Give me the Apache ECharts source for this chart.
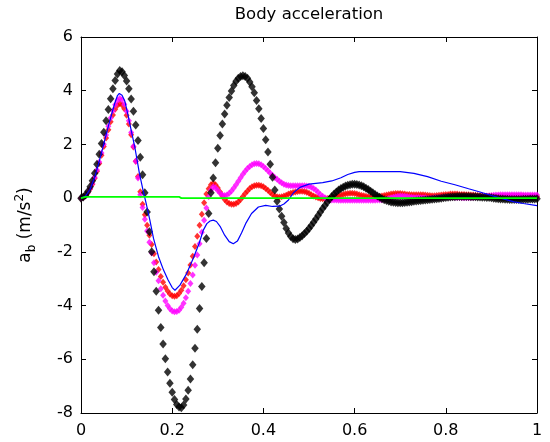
<!DOCTYPE html>
<html>
<head>
<meta charset="utf-8">
<title>Body acceleration</title>
<script src="https://cdn.jsdelivr.net/npm/echarts@6/dist/echarts.min.js"></script>
<style>
  html, body { margin: 0; padding: 0; background: #ffffff; }
  #chart { width: 550px; height: 442px; }
</style>
</head>
<body>
<div id="chart"></div>
<script>
// Uniform sample spacing (s) of the three marker series
const SAMPLE_STEP = 0.005;

// Axis ticks
const xTicks = [0, 0.2, 0.4, 0.6, 0.8, 1];
const yTicks = [-8, -6, -4, -2, 0, 2, 4, 6];

// Body acceleration a_b (m/s^2), black diamonds
const accelBlack = [
  0, 0.04, 0.12, 0.25, 0.42, 0.65, 0.93, 1.26, 1.63, 2.03, 2.45, 2.88, 3.3, 3.7, 4.07, 4.38, 4.62, 4.75,
  4.71, 4.57, 4.36, 4.07, 3.69, 3.24, 2.72, 2.15, 1.52, 0.87, 0.2, -0.52, -1.25, -2.0, -2.74, -3.47, -4.17,
  -4.82, -5.43, -5.98, -6.47, -6.89, -7.23, -7.5, -7.68, -7.78, -7.8,
  -7.7, -7.48, -7.15, -6.73, -6.2, -5.59, -4.88, -4.11, -3.29, -2.41, -1.5, -0.57, 0.2, 0.75, 1.32, 1.86,
  2.33, 2.76, 3.13, 3.46, 3.75, 3.99, 4.19, 4.35, 4.46, 4.53, 4.56, 4.53,
  4.46, 4.32, 4.15, 3.92, 3.64, 3.33, 2.97, 2.59, 2.17, 1.72, 1.26, 0.78, 0.3, -0.12, -0.4, -0.67, -0.91,
  -1.13, -1.3, -1.43, -1.51, -1.54,
  -1.52, -1.47, -1.4, -1.32, -1.23, -1.13, -1.02, -0.9, -0.78, -0.65, -0.52, -0.39, -0.27, -0.15, -0.04,
  0.06, 0.15, 0.23, 0.3, 0.36, 0.41, 0.45, 0.48, 0.5, 0.52, 0.52, 0.51, 0.49, 0.46, 0.42, 0.37, 0.32, 0.26,
  0.2, 0.14, 0.08, 0.03, -0.02, -0.06, -0.09, -0.12, -0.14, -0.15, -0.16, -0.17, -0.17, -0.17, -0.16, -0.15, -0.14,
  -0.13, -0.12, -0.11, -0.1, -0.09, -0.08, -0.07, -0.06, -0.05, -0.04, -0.03, -0.02, -0.01, 0, 0.01, 0.02,
  0.03, 0.04, 0.05, 0.05, 0.06, 0.06, 0.06, 0.06, 0.06, 0.06, 0.05, 0.05, 0.05, 0.04, 0.04, 0.03, 0.03, 0.02, 0.02, 0.01,
  0.0, -0.01, -0.02, -0.03, -0.03, -0.04, -0.04, -0.05, -0.05, -0.05, -0.05, -0.05, -0.05, -0.04, -0.04, -0.04, -0.03, -0.03, -0.03, -0.02
];

// Red diamonds
const accelRed = [
  0, 0.03, 0.1, 0.2, 0.34, 0.52, 0.74, 1.0, 1.29, 1.6, 1.92, 2.24, 2.55, 2.84, 3.1, 3.31, 3.46, 3.52,
  3.47, 3.33, 3.09, 2.76, 2.36, 1.9, 1.37, 0.81, 0.24,
  -0.23, -0.62, -1.01, -1.38, -1.73, -2.07, -2.38, -2.66, -2.92, -3.13, -3.32, -3.46, -3.57, -3.63, -3.65,
  -3.63, -3.55, -3.43, -3.26, -3.04, -2.79, -2.49, -2.16, -1.8, -1.42, -1.01, -0.6, -0.17,
  0.15, 0.35, 0.5, 0.55, 0.5, 0.38, 0.23, 0.08, -0.05, -0.14, -0.2, -0.23, -0.23, -0.2, -0.14, -0.05,
  0.06, 0.17, 0.27, 0.36, 0.42, 0.46, 0.48, 0.48, 0.46, 0.42, 0.36, 0.29, 0.21, 0.14, 0.08, 0.05, 0.04,
  0.05, 0.08, 0.11, 0.15, 0.18, 0.21, 0.23, 0.25, 0.26, 0.26, 0.25, 0.22, 0.18, 0.13, 0.08, 0.04, 0.01,
  -0.01, -0.02, -0.02, -0.01, 0.0, 0.02, 0.04, 0.07, 0.09, 0.12, 0.14, 0.16, 0.17, 0.18, 0.18, 0.17, 0.15,
  0.13, 0.11, 0.09, 0.07, 0.05, 0.04, 0.04, 0.04, 0.05, 0.06, 0.08, 0.1, 0.12, 0.14, 0.15, 0.16, 0.17, 0.17, 0.17,
  0.16, 0.15, 0.14, 0.14, 0.13, 0.13, 0.13, 0.13, 0.13, 0.13, 0.12, 0.11, 0.1, 0.09, 0.09, 0.1, 0.11, 0.12,
  0.13, 0.14, 0.14, 0.15, 0.15, 0.15, 0.15, 0.14, 0.14, 0.14, 0.13, 0.13, 0.12, 0.12, 0.11, 0.1, 0.09, 0.08,
  0.07, 0.06, 0.06, 0.05, 0.05, 0.05, 0.05, 0.05, 0.06, 0.06, 0.06, 0.07, 0.07, 0.07, 0.07, 0.07, 0.07, 0.07,
  0.06, 0.06, 0.06, 0.06, 0.06, 0.06
];

// Magenta diamonds
const accelMagenta = [
  0, 0.03, 0.1, 0.21, 0.36, 0.55, 0.78, 1.05, 1.35, 1.68, 2.01, 2.35, 2.68, 2.98, 3.25, 3.48, 3.64, 3.71,
  3.66, 3.5, 3.24, 2.88, 2.44, 1.93, 1.37, 0.75, 0.13,
  -0.35, -0.79, -1.22, -1.64, -2.04, -2.41, -2.76, -3.08, -3.37, -3.62, -3.83, -4.0, -4.12, -4.2, -4.23, -4.22,
  -4.17, -4.06, -3.91, -3.71, -3.47, -3.18, -2.86, -2.5, -2.12, -1.7, -1.27, -0.82, -0.37,
  0.05, 0.3, 0.42, 0.38, 0.28, 0.18, 0.12, 0.1, 0.12, 0.18, 0.27, 0.38, 0.5, 0.63, 0.76, 0.89, 1.0, 1.1,
  1.18, 1.24, 1.28, 1.29, 1.28, 1.24, 1.18, 1.1, 1.02, 0.93, 0.85, 0.77, 0.7, 0.63, 0.57, 0.52, 0.49, 0.47,
  0.46, 0.46, 0.46, 0.46, 0.46, 0.46, 0.46, 0.45, 0.44, 0.41, 0.36, 0.3, 0.22, 0.14, 0.07, 0.01, -0.04, -0.06, -0.07,
  -0.07, -0.07, -0.08, -0.08, -0.08, -0.08, -0.08, -0.08, -0.08, -0.08, -0.08, -0.08, -0.08, -0.08, -0.08,
  -0.08, -0.08, -0.08, -0.08, -0.07,
  -0.07, -0.06, -0.05, -0.03, -0.01, 0.01, 0.03, 0.05, 0.07, 0.08, 0.08, 0.07, 0.06, 0.04, 0.03, 0.02,
  0.02, 0.02, 0.01, 0.01, 0.01, 0.0, 0.0, 0.0, 0.01, 0.01, 0.02, 0.02, 0.03, 0.03, 0.03, 0.03, 0.03, 0.02,
  0.02, 0.02, 0.01, 0.01, 0.01, 0.01, 0.02, 0.02, 0.03, 0.04, 0.05, 0.06, 0.07, 0.08, 0.09, 0.1,
  0.11, 0.12, 0.12, 0.13, 0.13, 0.13, 0.13, 0.13, 0.13, 0.13, 0.13, 0.13, 0.13, 0.12, 0.12, 0.12, 0.12, 0.12, 0.12, 0.12
];

// Blue line: time (s) and value
const blueTime = [
  0, 0.01, 0.02, 0.03, 0.04, 0.05, 0.06, 0.07, 0.075, 0.08, 0.084, 0.09, 0.096, 0.103, 0.11, 0.118, 0.123,
  0.128, 0.136, 0.143, 0.151, 0.159, 0.17, 0.181, 0.191, 0.2, 0.206, 0.217, 0.232, 0.246, 0.259, 0.268,
  0.276, 0.283, 0.29, 0.297, 0.305, 0.315, 0.325, 0.334, 0.343, 0.352, 0.362, 0.374, 0.389, 0.405, 0.42,
  0.435, 0.445, 0.455, 0.466, 0.48, 0.5, 0.53, 0.55, 0.57, 0.585, 0.6, 0.61, 0.7, 0.73, 0.76, 0.79, 0.82,
  0.85, 0.875, 0.9, 0.92, 0.95, 0.97, 1.0
];
const blueAccel = [
  0, 0.08, 0.33, 0.78, 1.37, 2.02, 2.68, 3.3, 3.58, 3.82, 3.9, 3.83, 3.62, 3.1, 2.53, 1.9, 1.42,
  0.93, 0.3, -0.2, -0.82, -1.5, -2.18, -2.68, -3.05, -3.33, -3.43, -3.24, -2.8, -2.25, -1.69, -1.2,
  -0.95, -0.85, -0.82, -0.87, -1.05, -1.38, -1.62, -1.7, -1.6, -1.3, -0.92, -0.57, -0.33, -0.27, -0.31,
  -0.3, -0.22, -0.07, 0.2, 0.4, 0.52, 0.58, 0.64, 0.76, 0.88, 0.96, 0.99, 0.99, 0.92, 0.8, 0.63, 0.5,
  0.35, 0.23, 0.1, 0.0, -0.14, -0.2, -0.28
];

// Green line: time (s) and value
const greenTime = [0, 0.01, 0.215, 0.22, 1.0];
const greenAccel = [0, 0.05, 0.05, 0.0, 0.0];

const FONT = "'DejaVu Sans', 'Liberation Sans', Arial, sans-serif";

const sampleTimes = accelBlack.map((_, i) => +(i * SAMPLE_STEP).toFixed(3));
const pairs = (ts, vs) => vs.map((v, i) => [ts[i], v]);

const xMin = xTicks[0], xMax = xTicks[xTicks.length - 1], xStep = xTicks[1] - xTicks[0];
const yMin = yTicks[0], yMax = yTicks[yTicks.length - 1], yStep = yTicks[1] - yTicks[0];

const boxAxis = (extra) => Object.assign({
  type: 'value',
  axisLine: { show: true, onZero: false, lineStyle: { color: '#000', width: 1 } },
  axisTick: { show: true, inside: true, length: 5, lineStyle: { color: '#000', width: 1 } },
  splitLine: { show: false },
  axisLabel: { show: false }
}, extra);

const markerSeries = (name, values, color, size) => ({
  name,
  type: 'scatter',
  data: pairs(sampleTimes, values),
  symbol: 'diamond',
  symbolSize: size,
  itemStyle: { color },
  clip: false,
  silent: true
});

const lineSeries = (name, ts, vs, color, width) => ({
  name,
  type: 'line',
  data: pairs(ts, vs),
  showSymbol: false,
  symbol: 'none',
  lineStyle: { color, width },
  clip: false,
  silent: true
});

const chart = echarts.init(document.getElementById('chart'), null, { renderer: 'canvas' });
chart.setOption({
  animation: false,
  backgroundColor: '#ffffff',
  title: {
    text: 'Body acceleration',
    left: 309,
    top: 6,
    textAlign: 'center',
    padding: 0,
    textStyle: { fontFamily: FONT, fontSize: 16.5, fontWeight: 'normal', color: '#000' }
  },
  grid: { left: 81, right: 13, top: 37, bottom: 29, containLabel: false, outerBoundsMode: 'none' },
  xAxis: [
    boxAxis({
      position: 'bottom', min: xMin, max: xMax, interval: xStep,
      axisLabel: { show: true, color: '#000', fontFamily: FONT, fontSize: 16, margin: 10 }
    }),
    boxAxis({ position: 'top', min: xMin, max: xMax, interval: xStep })
  ],
  yAxis: [
    boxAxis({
      position: 'left', min: yMin, max: yMax, interval: yStep,
      axisLabel: { show: true, color: '#000', fontFamily: FONT, fontSize: 16, margin: 8 },
      name: 'a{sub|b} (m/s{sup|2})',
      nameLocation: 'middle',
      nameRotate: 90,
      nameGap: 43,
      nameTextStyle: {
        fontFamily: FONT, fontSize: 17, color: '#000', lineHeight: 24,
        rich: {
          sub: { fontFamily: FONT, fontSize: 12, lineHeight: 12, verticalAlign: 'bottom', color: '#000' },
          sup: { fontFamily: FONT, fontSize: 12, lineHeight: 12, verticalAlign: 'top', color: '#000' }
        }
      }
    }),
    boxAxis({ position: 'right', min: yMin, max: yMax, interval: yStep })
  ],
  series: [
    markerSeries('red', accelRed, '#ff0000', [6, 7]),
    markerSeries('magenta', accelMagenta, '#ff00ff', [6, 7]),
    markerSeries('black', accelBlack, '#000000', [7.5, 9]),
    lineSeries('blue', blueTime, blueAccel, '#0000ff', 1.2),
    lineSeries('green', greenTime, greenAccel, '#00ff00', 1.8)
  ]
});
</script>
</body>
</html>
